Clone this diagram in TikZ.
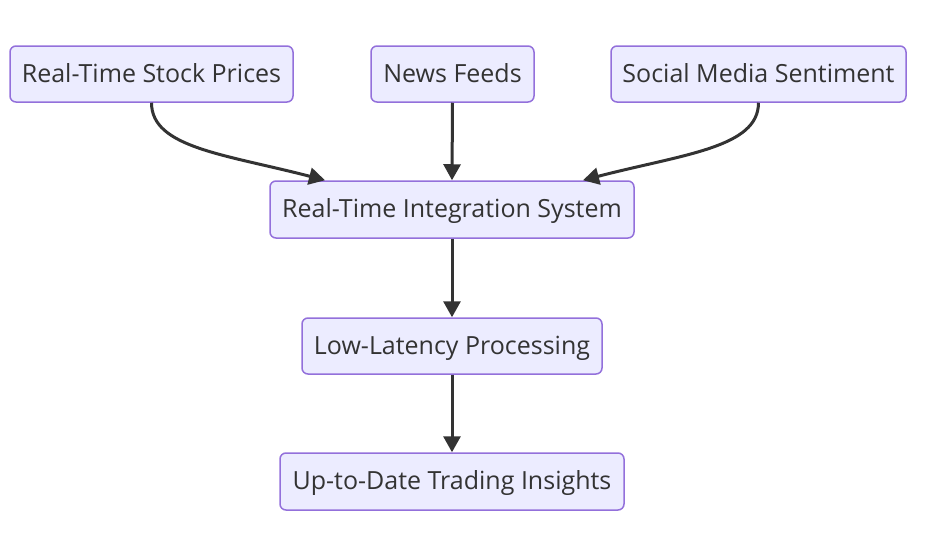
\documentclass[tikz,border=0pt]{standalone}
\usepackage{fontspec}
\setmainfont{Open Sans}
\usetikzlibrary{arrows.meta}
\definecolor{boxfill}{HTML}{ECECFF}
\definecolor{boxline}{HTML}{9370DB}
\definecolor{ink}{HTML}{333333}
\begin{document}
\begin{tikzpicture}[x=1pt,y=-1pt,
  box/.style={draw=boxline,fill=boxfill,line width=1.5pt,rounded corners=6pt,
    minimum height=56pt,inner sep=0pt,text height=16pt,text depth=0pt,text=ink,font=\fontsize{25}{30}\selectfont},
  conn/.style={draw=ink,line width=3pt,-{Triangle[length=16pt,width=17pt]}}]
\useasboundingbox (0,0) rectangle (930,536);
\node[box,minimum width=283pt] (stock) at (151.5,74) {Real-Time Stock Prices};
\node[box,minimum width=163pt] (news) at (452.5,74) {News Feeds};
\node[box,minimum width=295pt] (social) at (758.5,74) {Social Media Sentiment};
\node[box,minimum width=364pt,minimum height=57pt] (integ) at (452,209.5) {Real-Time Integration System};
\node[box,minimum width=300pt] (lowlat) at (452,346) {Low-Latency Processing};
\node[box,minimum width=344pt,minimum height=57pt] (insight) at (452,481.5) {Up-to-Date Trading Insights};
\coordinate (inL) at ([xshift=-127pt]integ.north);
\coordinate (inR) at ([xshift=131pt]integ.north);
\draw[conn] (stock.south) .. controls ++(0,45) and ++(-100,-26) .. (inL);
\draw[conn] (news.south) -- (integ.north);
\draw[conn] (social.south) .. controls ++(0,45) and ++(100,-26) .. (inR);
\draw[conn] (integ.south) -- (lowlat.north);
\draw[conn] (lowlat.south) -- (insight.north);
\end{tikzpicture}
\end{document}
